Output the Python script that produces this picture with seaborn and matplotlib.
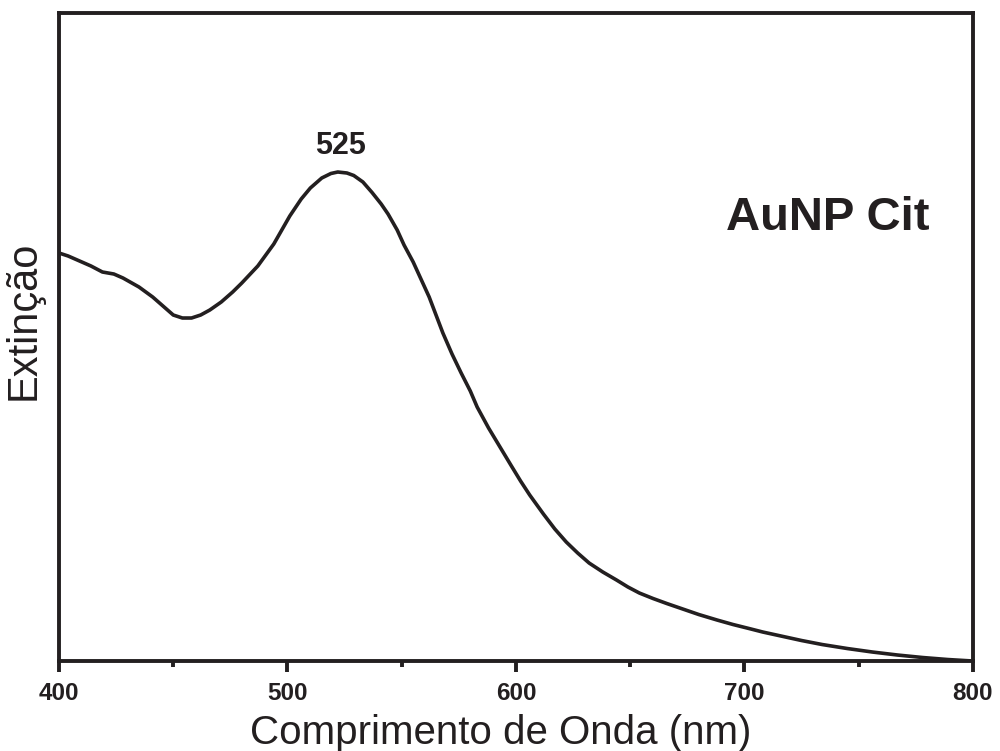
import numpy as np
import pandas as pd
import matplotlib
matplotlib.use("Agg")
import matplotlib.pyplot as plt
import seaborn as sns
from matplotlib.ticker import MultipleLocator

# ---- data ----
wavelength = [400, 404, 408, 414, 419, 424, 428, 435, 441, 446, 450, 454, 458, 462,
              466, 471, 476, 480, 487, 494, 501, 506, 510, 515, 519, 522, 526, 529,
              533, 537, 541, 544, 548, 551, 555, 558, 562, 565, 568, 572, 576, 580,
              583, 588, 593, 598, 602, 606, 612, 617, 622, 627, 632, 638, 644, 649,
              654, 660, 666, 673, 680, 688, 695, 702, 708, 716, 725, 734, 745, 756,
              767, 778, 789, 800]
extinction = [0.816, 0.810, 0.802, 0.790, 0.778, 0.774, 0.766, 0.748, 0.728, 0.708,
              0.692, 0.686, 0.686, 0.692, 0.702, 0.718, 0.738, 0.756, 0.790, 0.834,
              0.890, 0.924, 0.946, 0.966, 0.975, 0.978, 0.976, 0.971, 0.958, 0.937,
              0.914, 0.894, 0.862, 0.832, 0.798, 0.768, 0.728, 0.692, 0.656, 0.614,
              0.576, 0.540, 0.508, 0.466, 0.428, 0.390, 0.360, 0.332, 0.294, 0.264,
              0.238, 0.216, 0.196, 0.178, 0.162, 0.148, 0.136, 0.125, 0.115, 0.104,
              0.093, 0.082, 0.073, 0.065, 0.058, 0.050, 0.041, 0.033, 0.025, 0.018,
              0.012, 0.007, 0.003, 0.0]
xticks = [400, 500, 600, 700, 800]
xtick_labels = ["400", "500", "600", "700", "800"]
peak_label = "525"
sample_label = "AuNP Cit"
x_label = "Comprimento de Onda (nm)"
y_label = "Extinção"

df = pd.DataFrame({"wavelength": wavelength, "extinction": extinction})

sns.set_style("ticks")
plt.rcParams["font.family"] = ["Liberation Sans", "DejaVu Sans"]
ink = "#231f20"

fig = plt.figure(figsize=(10, 7.51), dpi=100)
ax = fig.add_axes([0.059, 0.1198, 0.914, 0.8629])

sns.lineplot(data=df, x="wavelength", y="extinction", ax=ax, color=ink,
             linewidth=2.6, estimator=None, sort=True)

ax.set_xlim(400, 800)
ax.set_ylim(0, 1.296)
ax.set_xticks(xticks)
ax.set_xticklabels(xtick_labels, fontweight="bold", fontsize=17.5, color=ink)
ax.xaxis.set_minor_locator(MultipleLocator(50))
ax.set_yticks([])

for s in ax.spines.values():
    s.set_visible(True)
    s.set_linewidth(2.8)
    s.set_color(ink)

ax.tick_params(axis="x", which="major", direction="out", length=8, width=2.8,
               color=ink, pad=7)
ax.tick_params(axis="x", which="minor", direction="out", length=4, width=2.8,
               color=ink)

ax.set_xlabel(x_label, fontsize=29, color=ink)
ax.xaxis.set_label_coords(0.4836, -0.082)
ax.set_ylabel(y_label, fontsize=30, color=ink)
ax.yaxis.set_label_coords(-0.017, 0.526)

ax.text(523, 1.0, peak_label, fontsize=22, fontweight="bold", color=ink,
        ha="center", va="bottom")
ax.text(0.841, 0.683, sample_label, transform=ax.transAxes, fontsize=34,
        fontweight="bold", color=ink, ha="center", va="center")

fig.savefig("out.png", dpi=100)
